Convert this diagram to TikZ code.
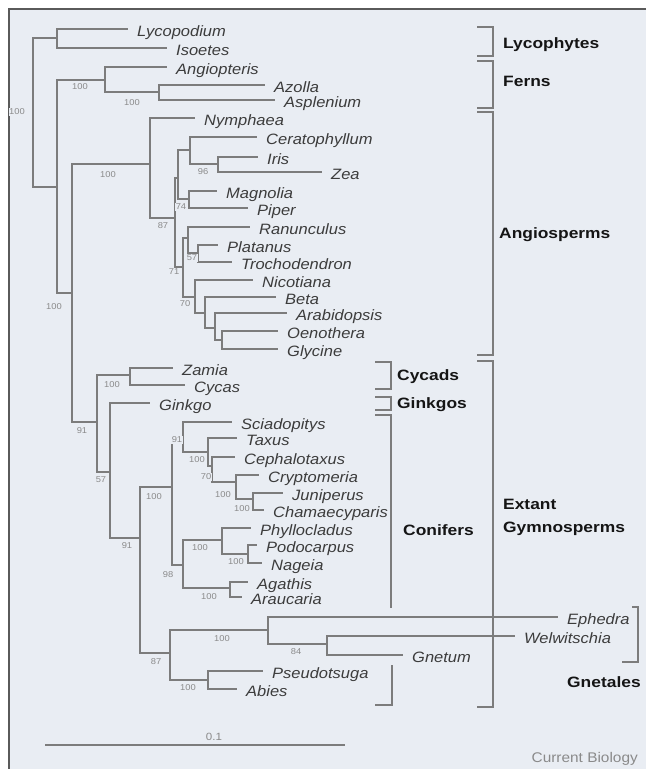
\documentclass[tikz,border=0pt]{standalone}
\usepackage{fontspec}
\newfontfamily\tipfont[FakeStretch=1.1]{Liberation Sans}
\newfontfamily\grpfont[FakeStretch=1.16]{Liberation Sans}
\definecolor{bgc}{HTML}{E9EDF3}
\definecolor{linec}{HTML}{7C7C7C}
\definecolor{tipc}{HTML}{3C3C3C}
\definecolor{bsc}{HTML}{8A8A8A}
\definecolor{framec}{HTML}{5A5A5A}
\definecolor{grpc}{HTML}{151515}
\newcommand\tipat[4]{\coordinate (#1) at (#2,#3); \node[tiplabel] (#1-l) at ([xshift=9pt,yshift=-7pt]#1) {#4};}
\begin{document}
\begin{tikzpicture}[x=1pt,y=-1pt,
 br/.style={draw=linec, line width=1.1pt},
 bkt/.style={draw=linec, line width=1.2pt},
 tiplabel/.style={anchor=base west, inner sep=0pt, text=tipc, font=\tipfont\itshape\fontsize{15}{17}\selectfont},
 grp/.style={anchor=base west, inner sep=0pt, text=grpc, font=\grpfont\bfseries\fontsize{15}{17}\selectfont},
 bs/.style={fill=bgc, inner sep=0.6pt, text=bsc, font=\tipfont\fontsize{8.5}{9}\selectfont},
]
\useasboundingbox (0,0) rectangle (646,769);
\fill[white] (0,0) rectangle (646,769);
\fill[bgc] (9,9) rectangle (646,769);
\draw[framec, line width=1.4pt] (646,9) -- (9,9) -- (9,769);

% internal nodes
\coordinate (R) at (33,112);
\coordinate (L) at (57,38);
\coordinate (T) at (57,187);
\coordinate (F) at (105,80);
\coordinate (AA) at (159,92);
\coordinate (S) at (72,293);
\coordinate (A) at (150,164);
\coordinate (A1) at (175,218);
\coordinate (M) at (178,178);
\coordinate (C) at (190,150);
\coordinate (IZ) at (218,164);
\coordinate (MP) at (189,199);
\coordinate (E) at (183,267);
\coordinate (RPT) at (188,238);
\coordinate (PT) at (198,253);
\coordinate (NB) at (195,297);
\coordinate (BAOG) at (205,313);
\coordinate (AOG) at (215,328);
\coordinate (OG) at (222,340);
\coordinate (G) at (97,422);
\coordinate (CY) at (130,375);
\coordinate (GK) at (110,472);
\coordinate (X) at (140,538);
\coordinate (CR) at (172,487);
\coordinate (SC) at (183,437);
\coordinate (TC) at (208,452);
\coordinate (C2) at (212,466);
\coordinate (CJ) at (236,482);
\coordinate (JC) at (253,499);
\coordinate (PAr) at (183,565);
\coordinate (PP) at (222,540);
\coordinate (PN) at (248,554);
\coordinate (AA2) at (230,588);
\coordinate (GP) at (170,653);
\coordinate (GN) at (268,630);
\coordinate (WG) at (327,644);
\coordinate (PA) at (208,680);

% tips
\tipat{lyc}{128}{29}{Lycopodium}
\tipat{iso}{167}{48}{Isoetes}
\tipat{ang}{167}{67}{Angiopteris}
\tipat{azo}{265}{85}{Azolla}
\tipat{asp}{275}{100}{Asplenium}
\tipat{nym}{195}{118}{Nymphaea}
\tipat{cer}{257}{137}{Ceratophyllum}
\tipat{iri}{258}{157}{Iris}
\tipat{zea}{322}{172}{Zea}
\tipat{mag}{217}{191}{Magnolia}
\tipat{pip}{248}{208}{Piper}
\tipat{ran}{250}{227}{Ranunculus}
\tipat{pla}{218}{245}{Platanus}
\tipat{tro}{232}{262}{Trochodendron}
\tipat{nic}{253}{280}{Nicotiana}
\tipat{bet}{276}{297}{Beta}
\tipat{ara}{287}{313}{Arabidopsis}
\tipat{oen}{278}{331}{Oenothera}
\tipat{gly}{278}{349}{Glycine}
\tipat{zam}{173}{368}{Zamia}
\tipat{cyc}{185}{385}{Cycas}
\tipat{gin}{150}{403}{Ginkgo}
\tipat{sci}{232}{422}{Sciadopitys}
\tipat{tax}{237}{438}{Taxus}
\tipat{cep}{235}{457}{Cephalotaxus}
\tipat{cry}{259}{475}{Cryptomeria}
\tipat{jun}{283}{493}{Juniperus}
\tipat{cha}{264}{510}{Chamaecyparis}
\tipat{phy}{251}{528}{Phyllocladus}
\tipat{pod}{257}{545}{Podocarpus}
\tipat{nag}{262}{563}{Nageia}
\tipat{aga}{248}{582}{Agathis}
\tipat{arc}{242}{597}{Araucaria}
\tipat{eph}{558}{617}{Ephedra}
\tipat{wel}{515}{636}{Welwitschia}
\tipat{gne}{403}{655}{Gnetum}
\tipat{pse}{263}{671}{Pseudotsuga}
\tipat{abi}{237}{689}{Abies}

% brackets
\draw[bkt] (477,27) -- (493,27) -- (493,56) -- (477,56);
\draw[bkt] (477,61) -- (493,61) -- (493,108) -- (477,108);
\draw[bkt] (477,112) -- (493,112) -- (493,355) -- (477,355);
\draw[bkt] (375,362) -- (391,362) -- (391,389) -- (375,389);
\draw[bkt] (375,397) -- (391,397) -- (391,410) -- (375,410);
\draw[bkt] (375,415) -- (391,415) -- (391,608);
\draw[bkt] (392,665) -- (392,705) -- (375,705);
\draw[bkt] (477,361) -- (493,361) -- (493,707) -- (477,707);
\draw[bkt] (632,607) -- (638,607) -- (638,662) -- (622,662);

% tree
\foreach \p/\c in {R/L, R/T, L/lyc, L/iso, T/F, T/S, F/ang, F/AA, AA/azo, AA/asp,
  S/A, S/G, A/nym, A/A1, A1/M, A1/E, M/C, M/MP, C/cer, C/IZ, IZ/iri, IZ/zea,
  MP/mag, MP/pip, E/RPT, E/NB, RPT/ran, RPT/PT, PT/pla, PT/tro, NB/nic, NB/BAOG,
  BAOG/bet, BAOG/AOG, AOG/ara, AOG/OG, OG/oen, OG/gly,
  G/CY, G/GK, CY/zam, CY/cyc, GK/gin, GK/X, X/CR, X/GP, CR/SC, CR/PAr,
  SC/sci, SC/TC, TC/tax, TC/C2, C2/cep, C2/CJ, CJ/cry, CJ/JC, JC/jun, JC/cha,
  PAr/PP, PAr/AA2, PP/phy, PP/PN, PN/pod, PN/nag, AA2/aga, AA2/arc,
  GP/GN, GP/PA, GN/eph, GN/WG, WG/wel, WG/gne, PA/pse, PA/abi}
  \draw[br] (\p) |- (\c);

% bootstrap values
\node[bs] (b1) at (17,112) {100};
\node[bs] (b2) at (80,87) {100};
\node[bs] (b3) at (132,103) {100};
\node[bs] (b4) at (108,175) {100};
\node[bs] (b5) at (203,172) {96};
\node[bs] (b6) at (181,207) {74};
\node[bs] (b7) at (163,226) {87};
\node[bs] (b8) at (192,258) {57};
\node[bs] (b9) at (174,272) {71};
\node[bs] (b10) at (185,304) {70};
\node[bs] (b11) at (54,307) {100};
\node[bs] (b12) at (82,431) {91};
\node[bs] (b13) at (112,385) {100};
\node[bs] (b14) at (101,480) {57};
\node[bs] (b15) at (127,546) {91};
\node[bs] (b16) at (154,497) {100};
\node[bs] (b17) at (177,440) {91};
\node[bs] (b18) at (197,460) {100};
\node[bs] (b19) at (206,477) {70};
\node[bs] (b20) at (223,495) {100};
\node[bs] (b21) at (242,509) {100};
\node[bs] (b22) at (200,548) {100};
\node[bs] (b23) at (236,562) {100};
\node[bs] (b24) at (168,575) {98};
\node[bs] (b25) at (209,597) {100};
\node[bs] (b26) at (222,639) {100};
\node[bs] (b27) at (296,652) {84};
\node[bs] (b28) at (156,662) {87};
\node[bs] (b29) at (188,688) {100};

% group labels
\node[grp] (g1) at (503,48) {Lycophytes};
\node[grp] (g2) at (503,86) {Ferns};
\node[grp] (g3) at (499,238) {Angiosperms};
\node[grp] (g4) at (397,380) {Cycads};
\node[grp] (g5) at (397,408) {Ginkgos};
\node[grp] (g6) at (403,535) {Conifers};
\node[grp] (g7) at (503,509) {Extant};
\node[grp] (g8) at (503,532) {Gymnosperms};
\node[grp] (g9) at (567,687) {Gnetales};

% scale bar
\coordinate (sb1) at (45,745);
\coordinate (sb2) at (345,745);
\draw[br] (sb1) -- (sb2);
\node[anchor=base, inner sep=0pt, text=bsc, font=\tipfont\fontsize{10.5}{12}\selectfont] (sbl) at (214,740) {0.1};

\node[anchor=base east, inner sep=0pt, text=bsc, font=\tipfont\fontsize{14}{16}\selectfont] (cb) at (638,762) {Current Biology};
\end{tikzpicture}
\end{document}
